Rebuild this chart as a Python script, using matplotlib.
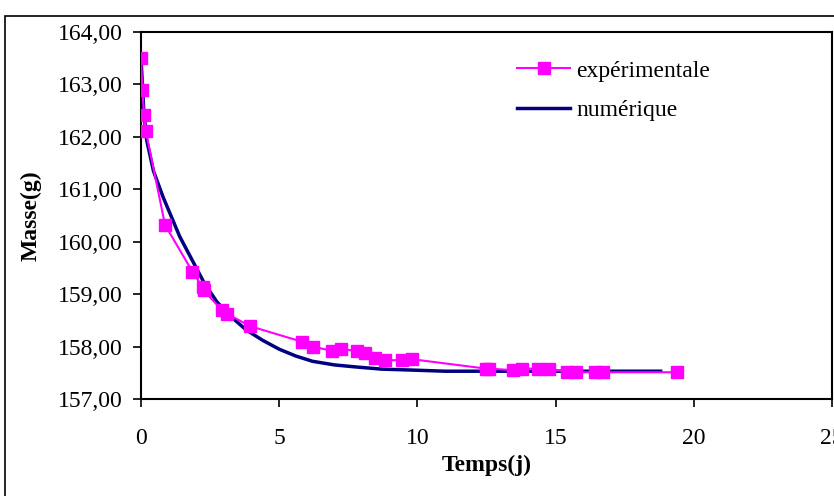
import matplotlib.pyplot as plt
from matplotlib.patches import Rectangle

plt.rcParams['font.family'] = ['Liberation Serif', 'DejaVu Serif']

# experimental measurements
t_exp = [0.0, 0.05, 0.11, 0.17, 0.87, 1.86, 2.23, 2.27, 2.92, 3.1, 3.94,
         5.84, 6.21, 6.9, 7.22, 7.8, 8.1, 8.47, 8.83, 9.43, 9.79,
         12.48, 12.6, 13.45, 13.8, 14.35, 14.76, 15.43, 15.74, 16.42, 16.73, 19.38]
m_exp = [163.51, 162.89, 162.42, 162.12, 160.32, 159.43, 159.13, 159.07, 158.70, 158.63, 158.39,
         158.09, 158.00, 157.92, 157.95, 157.92, 157.87, 157.79, 157.74, 157.74, 157.76,
         157.58, 157.58, 157.55, 157.58, 157.58, 157.58, 157.51, 157.51, 157.51, 157.51, 157.51]

# numerical simulation
t_num = [0.0, 0.1, 0.2, 0.45, 0.8, 1.0, 1.4, 1.8, 2.3, 2.75, 3.3, 3.8, 4.4, 5.0,
         5.6, 6.2, 7.0, 7.8, 8.7, 9.9, 11.0, 13.0, 15.0, 18.8]
m_num = [163.5, 162.5, 161.95, 161.35, 160.85, 160.6, 160.1, 159.7, 159.2, 158.85, 158.55,
         158.32, 158.12, 157.95, 157.82, 157.72, 157.65, 157.61, 157.57, 157.55, 157.53,
         157.53, 157.53, 157.53]

fig = plt.figure(figsize=(8.34, 4.96), dpi=100)
ax = fig.add_axes([141/834, 1 - 399/496, 691/834, 367/496])

# outer chart-area border (runs off the right and bottom edges)
fig.patches.append(Rectangle((5/834, -0.1), 1.2, 1 - 16/496 + 0.1, transform=fig.transFigure,
                             fill=False, edgecolor='black', linewidth=1.2))

ax.plot(t_num, m_num, color='#000080', linewidth=2.5, label='numérique', zorder=2)
ax.plot(t_exp, m_exp, color='#FF00FF', linewidth=1.5, marker='s', markersize=8,
        label='expérimentale', zorder=3)

ax.set_xlim(0, 25)
ax.set_ylim(157, 164)
ax.set_xticks([0, 5, 10, 15, 20, 25])
ax.set_yticks([157, 158, 159, 160, 161, 162, 163, 164])
ax.set_yticklabels([f'{v:.2f}'.replace('.', ',') for v in range(157, 165)])
ax.tick_params(labelsize=17, length=6, width=1.2)
ax.tick_params(axis='y', pad=7)
ax.tick_params(axis='x', pad=15)
for s in ax.spines.values():
    s.set_linewidth(1.5)

ax.set_xlabel('Temps(j)', fontsize=17, fontweight='bold', labelpad=4)
ax.set_ylabel('Masse(g)', fontsize=17, fontweight='bold', labelpad=12)

handles, labels = ax.get_legend_handles_labels()
ax.legend(handles[::-1], labels[::-1], loc='upper left',
          bbox_to_anchor=(517/834, 1 - 60/496), bbox_transform=fig.transFigure,
          frameon=False, fontsize=17, handlelength=2.25, handletextpad=0.25,
          labelspacing=0.75, borderaxespad=0, borderpad=0)

fig.savefig('out.png', dpi=100)
